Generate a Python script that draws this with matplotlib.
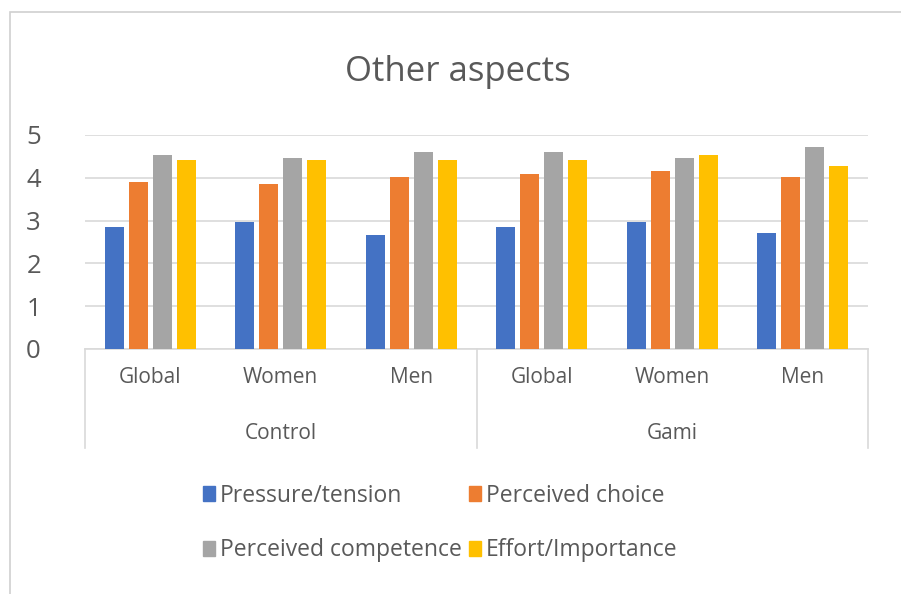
import numpy as np
import matplotlib.pyplot as plt
from matplotlib.patches import Patch, Rectangle
from matplotlib.transforms import blended_transform_factory

plt.rcParams['font.family'] = ['Open Sans', 'DejaVu Sans']

groups = ["Control", "Gami"]
subgroups = ["Global", "Women", "Men"]
series = ["Pressure/tension", "Perceived choice", "Perceived competence", "Effort/Importance"]
colors = ["#4472C4", "#ED7D31", "#A5A5A5", "#FFC000"]

pressure = [2.84, 2.97, 2.66, 2.84, 2.97, 2.72]
choice = [3.91, 3.85, 4.03, 4.10, 4.16, 4.03]
competence = [4.53, 4.47, 4.60, 4.60, 4.47, 4.71]
effort = [4.42, 4.42, 4.42, 4.42, 4.53, 4.28]
values = [pressure, choice, competence, effort]

text_col = "#595959"
line_col = "#D9D9D9"

fig = plt.figure(figsize=(9.01, 5.94), dpi=100)
fig.patches.append(Rectangle((10 / 901, -0.1), 1.2, (594 - 12) / 594 + 0.1,
                             transform=fig.transFigure, fill=False,
                             edgecolor="#D0D0D0", linewidth=1.2))

ax = fig.add_axes([85 / 901, (594 - 349) / 594, (868 - 85) / 901, 214 / 594])

x = np.arange(len(subgroups) * len(groups))
width = 0.145
pitch = 0.183
for i, (vals, c) in enumerate(zip(values, colors)):
    ax.bar(x + (i - 1.5) * pitch, vals, width, color=c, label=series[i], zorder=3)

ax.set_xlim(-0.5, len(x) - 0.5)
ax.set_ylim(0, 5)
ax.set_yticks(range(6))
ax.yaxis.grid(True, color=line_col, linewidth=1.2, zorder=0)
for s in ["top", "right", "left"]:
    ax.spines[s].set_visible(False)
ax.spines["bottom"].set_color(line_col)
ax.spines["bottom"].set_linewidth(1.2)
ax.tick_params(axis="y", length=0, pad=37, labelsize=18.5, labelcolor=text_col)
ax.set_yticklabels([str(v) for v in range(6)], ha="center")
ax.set_xticks(x)
ax.set_xticklabels(subgroups * len(groups))
ax.tick_params(axis="x", length=0, pad=13, labelsize=15, labelcolor=text_col)

# second level of the category axis
trans = blended_transform_factory(ax.transData, ax.transAxes)
for k in range(len(groups) + 1):
    ax.plot([k * 3 - 0.5] * 2, [0, -0.463], transform=trans, color=line_col,
            linewidth=1.2, clip_on=False)
for k, g in enumerate(groups):
    ax.text(k * 3 + 1, -0.395, g, transform=trans, ha="center", va="center",
            fontsize=15, color=text_col)

fig.text(458 / 901, 1 - 72 / 594, "Other aspects", ha="center", va="center",
         fontsize=25, color=text_col)

# legend filled column-wise, so reorder to read row by row
order = [0, 2, 1, 3]
handles = [Patch(color=colors[i]) for i in order]
labels = [series[i] for i in order]
fig.legend(handles, labels, ncol=2, loc="center", bbox_to_anchor=(440 / 901, 1 - 523 / 594),
           frameon=False, fontsize=16.5, labelcolor=text_col, handlelength=0.55,
           handleheight=0.65, handletextpad=0.2, columnspacing=0.3, labelspacing=1.35)

fig.savefig("out.png", dpi=100)
